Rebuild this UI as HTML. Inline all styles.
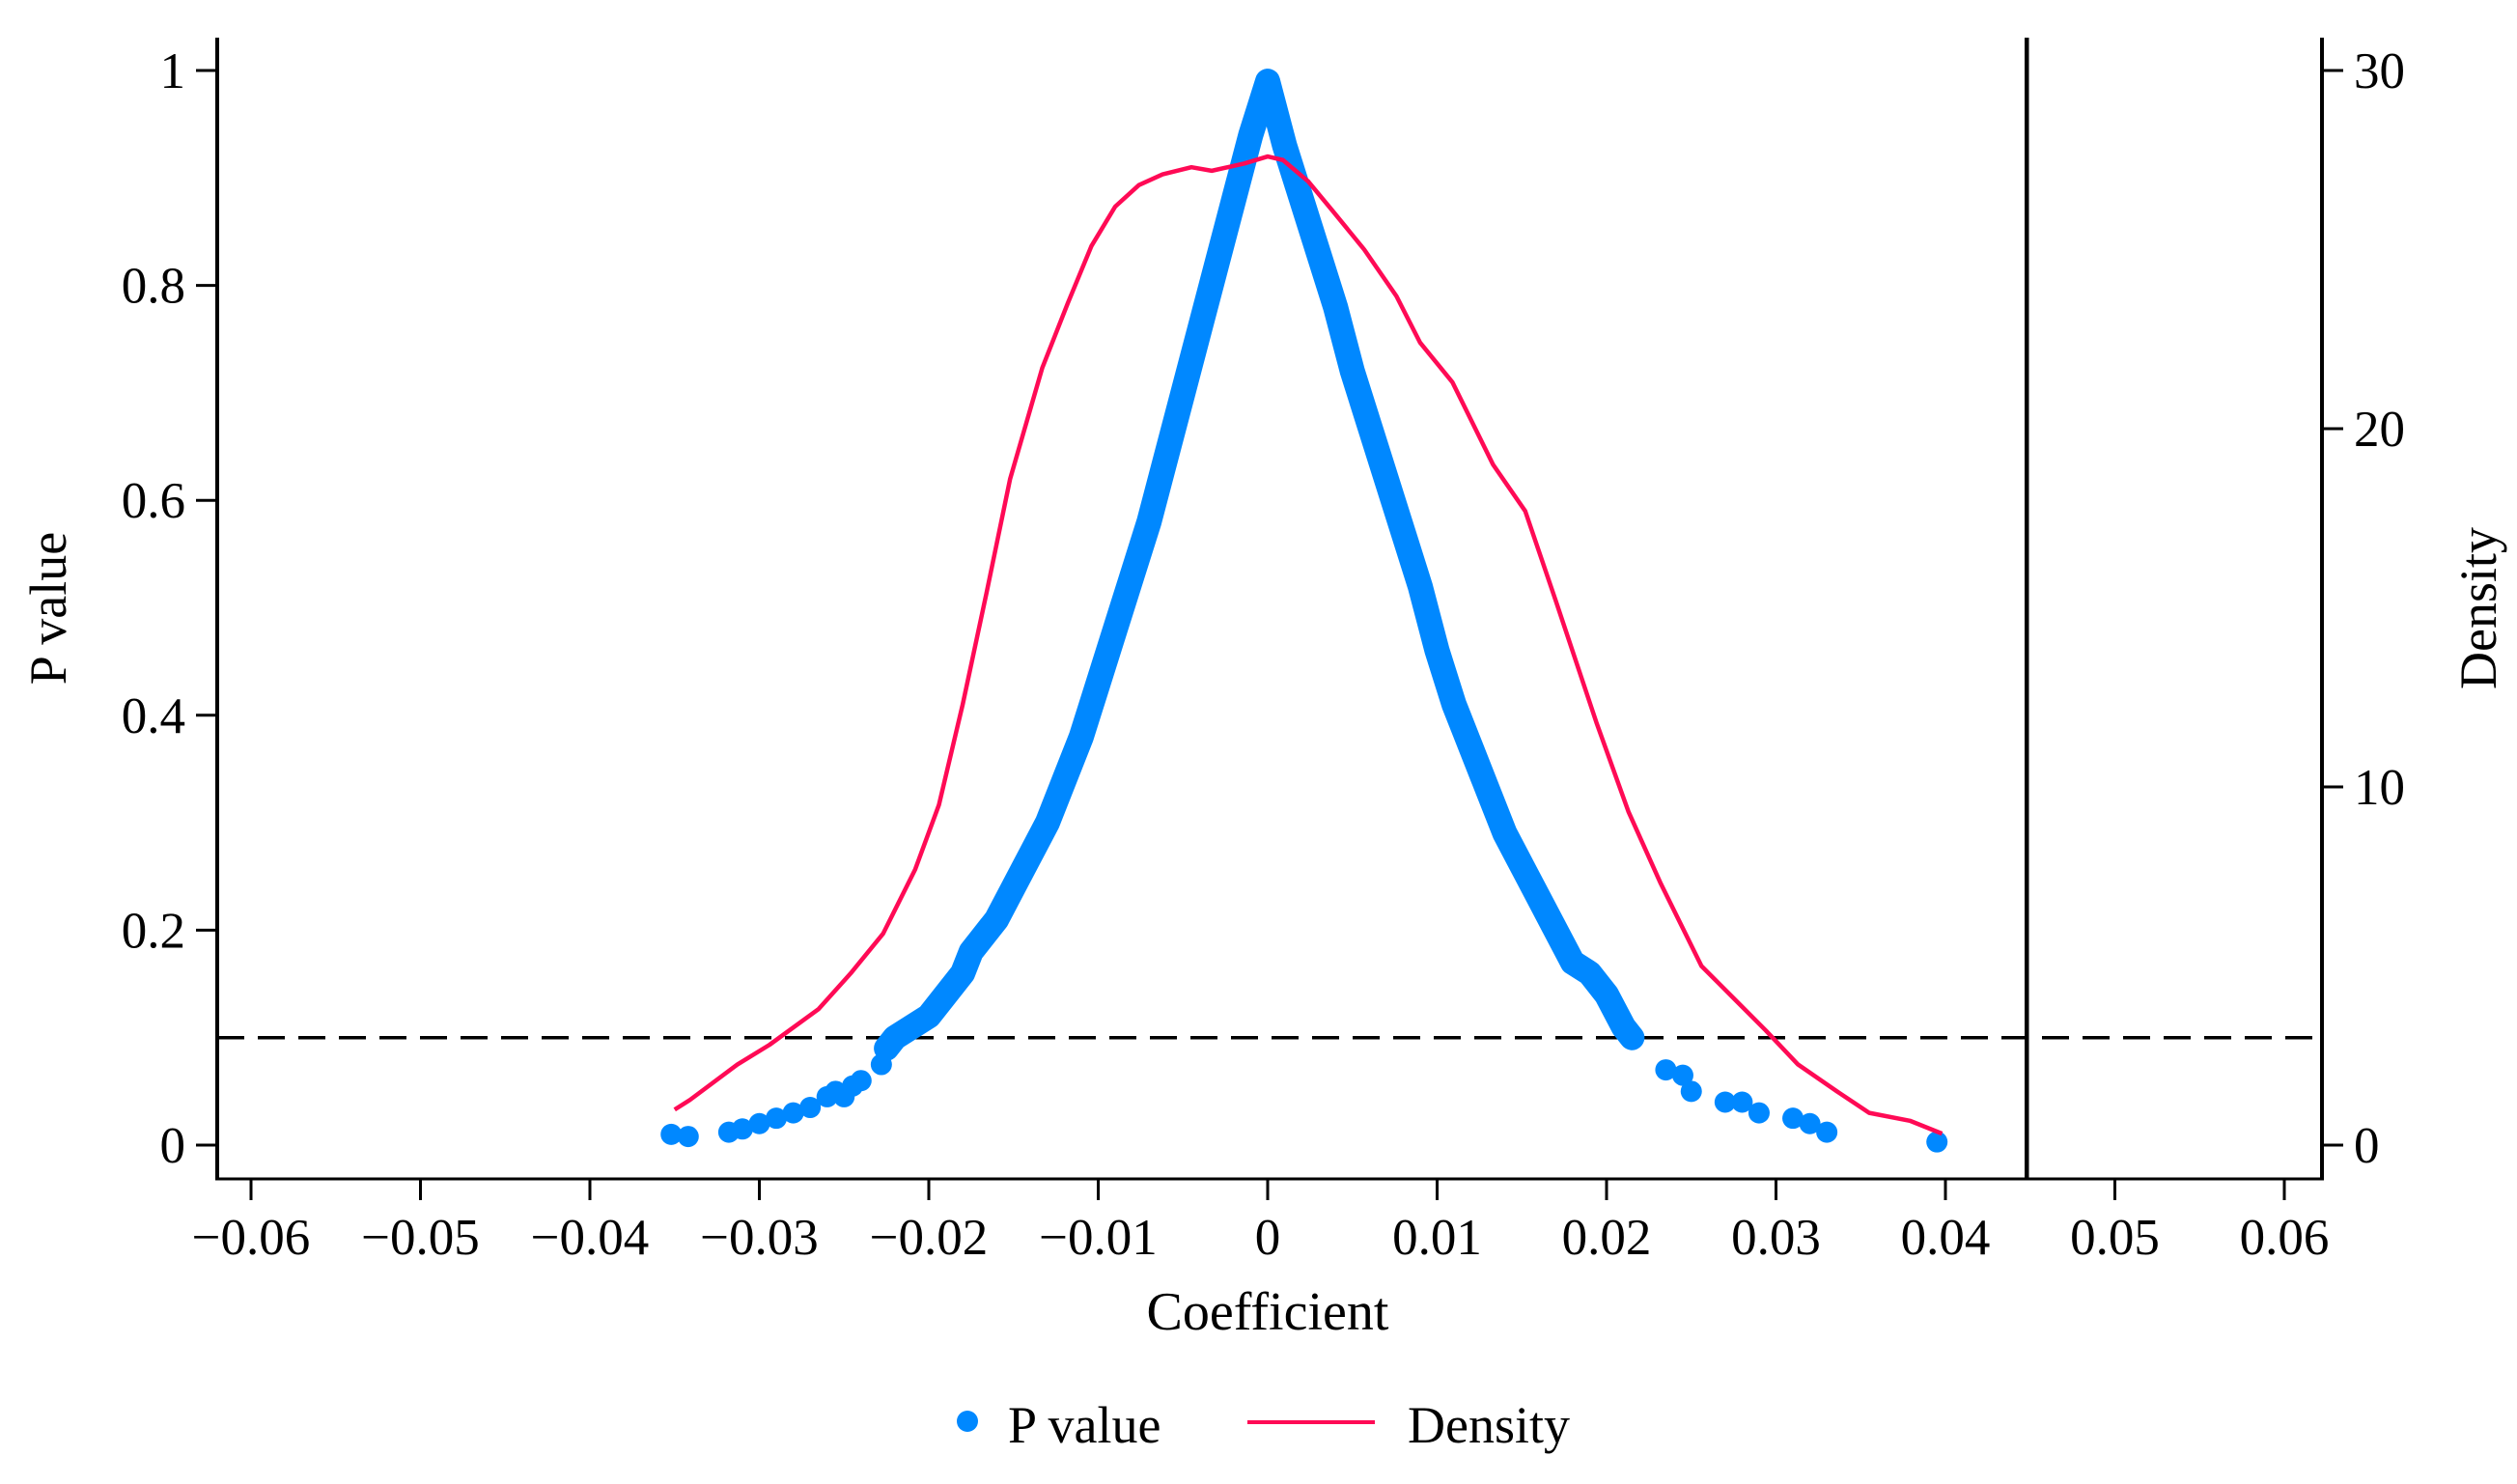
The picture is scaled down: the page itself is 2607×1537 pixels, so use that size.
<!DOCTYPE html>
<html><head><meta charset="utf-8"><style>
html,body{margin:0;padding:0;background:#fff;}
svg text{font-family:"Liberation Serif",serif;fill:#000;}
</style></head><body>
<svg id="chart" width="2607" height="1532" viewBox="0 0 2607 1532" xmlns="http://www.w3.org/2000/svg">
<rect width="2607" height="1532" fill="#fff"/>
<g id="axes"></g>
<g id="marks"></g>
<g id="legend">
<circle cx="1002" cy="1472" r="11" fill="#0088ff"/>
<text x="1044" y="1494" font-size="54">P value</text>
<line x1="1292" y1="1473" x2="1424" y2="1473" stroke="#ff0a55" stroke-width="4"/>
<text x="1458" y="1494" font-size="54">Density</text>
</g>
</svg>
<script>
const xTicks = [-0.06,-0.05,-0.04,-0.03,-0.02,-0.01,0,0.01,0.02,0.03,0.04,0.05,0.06];
const xTickLabels = ["\u22120.06","\u22120.05","\u22120.04","\u22120.03","\u22120.02","\u22120.01","0","0.01","0.02","0.03","0.04","0.05","0.06"];
const pTicks = [0,0.2,0.4,0.6,0.8,1];
const pTickLabels = ["0","0.2","0.4","0.6","0.8","1"];
const dTicks = [0,10,20,30];
const dTickLabels = ["0","10","20","30"];
const pThreshold = 0.1;
const refCoef = 0.0448;
const densX = [-0.035,-0.0341,-0.0313,-0.0294,-0.0265,-0.0246,-0.0227,-0.0208,-0.0194,-0.018,-0.0166,-0.0152,-0.0133,-0.0118,-0.0104,-0.009,-0.0076,-0.0062,-0.0045,-0.0033,-0.0014,0,0.0009,0.0024,0.0038,0.0057,0.0076,0.009,0.0109,0.0133,0.0152,0.017,0.0194,0.0213,0.0232,0.0256,0.0275,0.0294,0.0313,0.0336,0.0355,0.0379,0.0398];
const densY = [0.99,1.26,2.25,2.8,3.8,4.8,5.9,7.7,9.5,12.3,15.4,18.6,21.7,23.5,25.1,26.2,26.8,27.1,27.3,27.2,27.4,27.6,27.5,26.9,26.1,25.0,23.7,22.4,21.3,19.0,17.7,15.2,11.8,9.3,7.3,5.0,4.1,3.2,2.25,1.5,0.9,0.68,0.32];
const pX = [-0.0352,-0.0342,-0.0318,-0.031,-0.030,-0.029,-0.028,-0.027,-0.026,-0.0255,-0.025,-0.0245,-0.024,-0.0228,-0.0225,-0.022,-0.021,-0.020,-0.019,-0.018,-0.0175,-0.017,-0.016,-0.015,-0.014,-0.013,-0.012,-0.011,-0.010,-0.009,-0.008,-0.007,-0.006,-0.005,-0.004,-0.003,-0.002,-0.001,0,0.001,0.002,0.003,0.004,0.005,0.006,0.007,0.008,0.009,0.010,0.011,0.012,0.013,0.014,0.015,0.016,0.017,0.018,0.019,0.020,0.021,0.0215,0.0235,0.0245,0.025,0.027,0.028,0.029,0.031,0.032,0.033,0.0395];
const pY = [0.01,0.008,0.012,0.015,0.02,0.025,0.03,0.035,0.045,0.05,0.045,0.055,0.06,0.075,0.09,0.1,0.11,0.12,0.14,0.16,0.18,0.19,0.21,0.24,0.27,0.30,0.34,0.38,0.43,0.48,0.53,0.58,0.64,0.70,0.76,0.82,0.88,0.94,0.99,0.93,0.88,0.83,0.78,0.72,0.67,0.62,0.57,0.52,0.46,0.41,0.37,0.33,0.29,0.26,0.23,0.20,0.17,0.16,0.14,0.11,0.10,0.07,0.065,0.05,0.04,0.04,0.03,0.025,0.02,0.012,0.003];

const NS="http://www.w3.org/2000/svg";
const L=225,R=2405,T=39,B=1221;
const xs=v=>1313+v*17550;
const ys=v=>1186-v*1113;
const yd=v=>1186-v*37.1;
function mk(tag,attrs,parent){const e=document.createElementNS(NS,tag);for(const k in attrs)e.setAttribute(k,attrs[k]);parent.appendChild(e);return e;}
const axes=document.getElementById('axes'), marks=document.getElementById('marks');

let e;
e=mk('line',{x1:L,y1:T,x2:L,y2:B,stroke:'#000','stroke-width':4},axes);


e=mk('line',{x1:R,y1:T,x2:R,y2:B,stroke:'#000','stroke-width':4},axes);


e=mk('line',{x1:L-2,y1:B,x2:R+2,y2:B,stroke:'#000','stroke-width':3},axes);



xTicks.forEach((v,i)=>{
  const x=xs(v);
  let t=mk('line',{x1:x,y1:B,x2:x,y2:B+22,stroke:'#000','stroke-width':3},axes);
  
  
  let l=mk('text',{x:x,y:B+78,'font-size':53,'text-anchor':'middle'},axes);
  l.textContent=xTickLabels[i];
  
  
});
pTicks.forEach((v,i)=>{
  const y=ys(v);
  let t=mk('line',{x1:L-22,y1:y,x2:L,y2:y,stroke:'#000','stroke-width':3},axes);
  
  
  let l=mk('text',{x:L-33,y:y+18,'font-size':53,'text-anchor':'end'},axes);
  l.textContent=pTickLabels[i];
  
  
});
dTicks.forEach((v,i)=>{
  const y=yd(v);
  let t=mk('line',{x1:R,y1:y,x2:R+22,y2:y,stroke:'#000','stroke-width':3},axes);
  
  
  let l=mk('text',{x:R+33,y:y+18,'font-size':53,'text-anchor':'start'},axes);
  l.textContent=dTickLabels[i];
  
  
});
let tl=mk('text',{x:0,y:0,'font-size':54,'text-anchor':'middle',transform:'translate(68,630) rotate(-90)'},axes);
tl.textContent='P value';


tl=mk('text',{x:0,y:0,'font-size':54,'text-anchor':'middle',transform:'translate(2585,630) rotate(-90)'},axes);
tl.textContent='Density';


tl=mk('text',{x:1313,y:1377,'font-size':56,'text-anchor':'middle'},axes);
tl.textContent='Coefficient';



e=mk('line',{x1:L,y1:ys(pThreshold),x2:R,y2:ys(pThreshold),stroke:'#000','stroke-width':3.5,'stroke-dasharray':'28 14'},marks);


e=mk('line',{x1:xs(refCoef),y1:T,x2:xs(refCoef),y2:B,stroke:'#000','stroke-width':4.5},marks);



let band='';
pX.forEach((v,i)=>{ if(Math.abs(v)<=0.0225) band+=(band?'L':'M')+xs(v)+','+ys(pY[i]); });
e=mk('path',{d:band,fill:'none',stroke:'#0088ff','stroke-width':26,'stroke-linecap':'round','stroke-linejoin':'round'},marks);


pX.forEach((v,i)=>{
  const c=mk('circle',{cx:xs(v),cy:ys(pY[i]),r:11,fill:'#0088ff'},marks);
  
  
});

let d='';
densX.forEach((v,i)=>{ d+=(i?'L':'M')+xs(v)+','+yd(densY[i]); });
e=mk('path',{d:d,fill:'none',stroke:'#ff0a55','stroke-width':4.5,'stroke-linejoin':'round'},marks);


</script>
</body></html>
